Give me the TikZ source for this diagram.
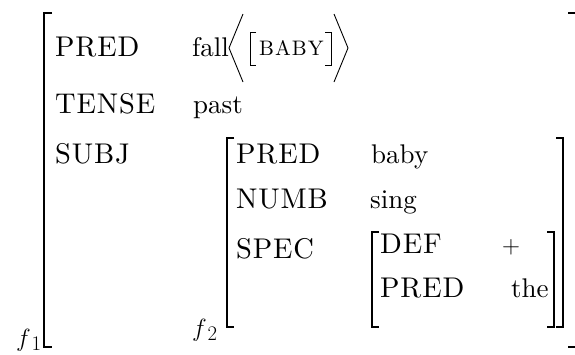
\documentclass[tikz,border=0pt]{standalone}
\usepackage{fontspec}
\setmainfont{lmroman10-regular.otf}
\begin{document}
\begin{tikzpicture}[x=1pt,y=-1pt,
  base/.style={anchor=base west, inner sep=0pt, font=\fontsize{27}{30}\selectfont},
  key/.style={base, font=\fontsize{28.5}{32}\selectfont\addfontfeatures{LetterSpace=3}},
  val/.style={base},
  sc/.style={base, font=\fontsize{21}{23}\selectfont\addfontfeatures{LetterSpace=5}},
  lab/.style={base, font=\fontsize{28}{30}\selectfont},
  brk/.style={line width=1.4pt},
  ang/.style={line width=0.9pt}]
\useasboundingbox (0,0) rectangle (575,354);
% outer f1
\node[key] (k1) at (55,56) {PRED};
\node[val] (v1) at (192,56) {fall};
\node[sc]  (bb) at (259,55) {BABY};
\node[key] (k2) at (55,113) {TENSE};
\node[val] (v2) at (193,113) {past};
\node[key] (k3) at (55,163) {SUBJ};
% inner f2
\node[key] (k4) at (236,163) {PRED};
\node[val] (v4) at (371,163) {baby};
\node[key] (k5) at (236,208) {NUMB};
\node[val] (v5) at (370,208) {sing};
\node[key] (k6) at (236,258) {SPEC};
% spec
\node[key] (k7) at (380,253) {DEF};
\node[val] (v7) at (502,253) {$+$};
\node[key] (k8) at (380,297) {PRED};
\node[val] (v8) at (511,297) {the};
% labels
\node[lab] (f1) at (16,346) {$f_{\,1}$};
\node[lab] (f2) at (192,336) {$f_{\,2}$};
% angle brackets and [BABY]
\draw[ang] (243,14) -- (229,48) -- (243,82);
\draw[ang] (334,14) -- (348,48) -- (334,82);
\draw[ang] (256,32) -| (250,65) -- (256,65);
\draw[ang] (325,32) -| (331,65) -- (325,65);
% f1 brackets
\draw[brk] (52,13) -| (44,347) -- (52,347);
\draw[brk] (568,13) -- (576,13);
\draw[brk] (568,347) -- (576,347);
% f2 brackets
\draw[brk] (234,138) -| (227,327) -- (234,327);
\draw[brk] (556,138) -| (563,327) -- (556,327);
% spec brackets
\draw[brk] (379,232) -| (372,327) -- (379,327);
\draw[brk] (547,232) -| (554,327) -- (547,327);
\end{tikzpicture}
\end{document}
